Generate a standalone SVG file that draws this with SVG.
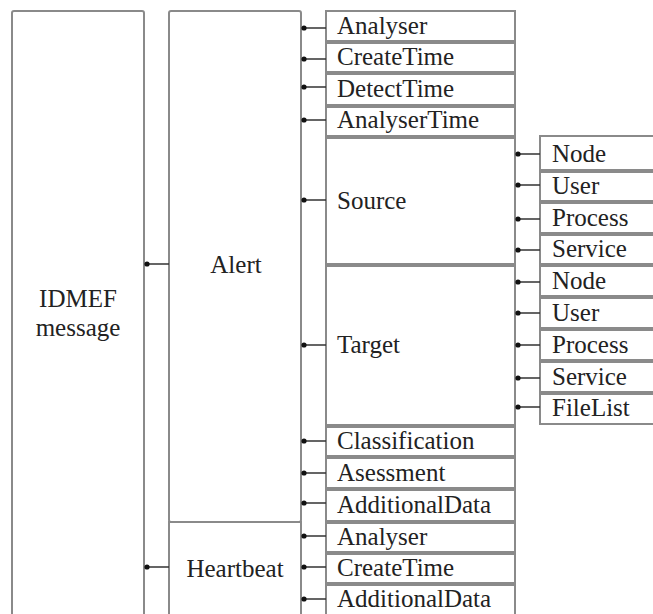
<svg xmlns="http://www.w3.org/2000/svg" width="653" height="614" viewBox="0 0 653 614">
<style>
.box{fill:#fff;stroke:#8a8a8a;stroke-width:2}
.t{font-family:'Liberation Serif','Times New Roman','DejaVu Serif',serif;font-size:25px;fill:#222}
.c{text-anchor:middle}
.ln{stroke:#333;stroke-width:1.6;fill:none}
.dot{fill:#111}
</style>
<rect width="653" height="614" fill="#fff"/>
<g id="idmef"><rect class="box" x="12" y="11" width="132" height="640" rx="2"/><text class="t c" x="78" y="307" font-family="Liberation Serif">IDMEF</text><text class="t c" x="78" y="336" font-family="Liberation Serif">message</text></g>
<g id="alert"><rect class="box" x="169" y="11" width="132" height="511" rx="2"/><text class="t c" x="236" y="273">Alert</text></g>
<g id="heartbeat"><rect class="box" x="169" y="522" width="132" height="120"/><text class="t c" x="235" y="577">Heartbeat</text></g>
<g id="a-analyser"><rect class="box" x="326" y="11" width="189" height="30"/><text class="t" x="337" y="34">Analyser</text></g>
<g id="a-createtime"><rect class="box" x="326" y="43" width="189" height="29"/><text class="t" x="337" y="65">CreateTime</text></g>
<g id="a-detecttime"><rect class="box" x="326" y="74" width="189" height="31"/><text class="t" x="337" y="97">DetectTime</text></g>
<g id="a-analysertime"><rect class="box" x="326" y="107" width="189" height="29"/><text class="t" x="337" y="128">AnalyserTime</text></g>
<g id="source"><rect class="box" x="326" y="138" width="189" height="126"/><text class="t" x="337" y="209">Source</text></g>
<g id="target"><rect class="box" x="326" y="266" width="189" height="159"/><text class="t" x="337" y="353">Target</text></g>
<g id="classification"><rect class="box" x="326" y="427" width="189" height="29"/><text class="t" x="337" y="449">Classification</text></g>
<g id="asessment"><rect class="box" x="326" y="458" width="189" height="30"/><text class="t" x="337" y="481">Asessment</text></g>
<g id="a-additionaldata"><rect class="box" x="326" y="490" width="189" height="31"/><text class="t" x="337" y="513">AdditionalData</text></g>
<g id="h-analyser"><rect class="box" x="326" y="523" width="189" height="29"/><text class="t" x="337" y="545">Analyser</text></g>
<g id="h-createtime"><rect class="box" x="326" y="554" width="189" height="29"/><text class="t" x="337" y="576">CreateTime</text></g>
<g id="h-additionaldata"><rect class="box" x="326" y="585" width="189" height="50"/><text class="t" x="337" y="607">AdditionalData</text></g>
<g id="s-node"><rect class="box" x="540" y="136" width="130" height="34"/><text class="t" x="552" y="162">Node</text></g>
<g id="s-user"><rect class="box" x="540" y="172" width="130" height="29"/><text class="t" x="552" y="194">User</text></g>
<g id="s-process"><rect class="box" x="540" y="203" width="130" height="30"/><text class="t" x="552" y="226">Process</text></g>
<g id="s-service"><rect class="box" x="540" y="235" width="130" height="29"/><text class="t" x="552" y="257">Service</text></g>
<g id="t-node"><rect class="box" x="540" y="266" width="130" height="30"/><text class="t" x="552" y="289">Node</text></g>
<g id="t-user"><rect class="box" x="540" y="298" width="130" height="30"/><text class="t" x="552" y="321">User</text></g>
<g id="t-process"><rect class="box" x="540" y="330" width="130" height="30"/><text class="t" x="552" y="353">Process</text></g>
<g id="t-service"><rect class="box" x="540" y="362" width="130" height="30"/><text class="t" x="552" y="385">Service</text></g>
<g id="t-filelist"><rect class="box" x="540" y="394" width="130" height="30"/><text class="t" x="552" y="416">FileList</text></g>
<g id="connectors">
<path class="ln" d="M147 264H169M147 567H169"/>
<path class="ln" d="M304 28H326M304 59H326M304 87H326M304 120H326M304 200H326M304 345H326M304 441H326M304 473H326M304 503H326M304 536H326M304 567H326M304 599H326"/>
<path class="ln" d="M518 154H540M518 185H540M518 219H540M518 250H540M518 282H540M518 313H540M518 345H540M518 378H540M518 407H540"/>
<g class="dot">
<circle cx="147" cy="264" r="2.6"/><circle cx="147" cy="567" r="2.6"/>
<circle cx="304" cy="28" r="2.6"/><circle cx="304" cy="59" r="2.6"/><circle cx="304" cy="87" r="2.6"/><circle cx="304" cy="120" r="2.6"/><circle cx="304" cy="200" r="2.6"/><circle cx="304" cy="345" r="2.6"/><circle cx="304" cy="441" r="2.6"/><circle cx="304" cy="473" r="2.6"/><circle cx="304" cy="503" r="2.6"/><circle cx="304" cy="536" r="2.6"/><circle cx="304" cy="567" r="2.6"/><circle cx="304" cy="599" r="2.6"/>
<circle cx="518" cy="154" r="2.6"/><circle cx="518" cy="185" r="2.6"/><circle cx="518" cy="219" r="2.6"/><circle cx="518" cy="250" r="2.6"/><circle cx="518" cy="282" r="2.6"/><circle cx="518" cy="313" r="2.6"/><circle cx="518" cy="345" r="2.6"/><circle cx="518" cy="378" r="2.6"/><circle cx="518" cy="407" r="2.6"/>
</g>
</g>
</svg>
